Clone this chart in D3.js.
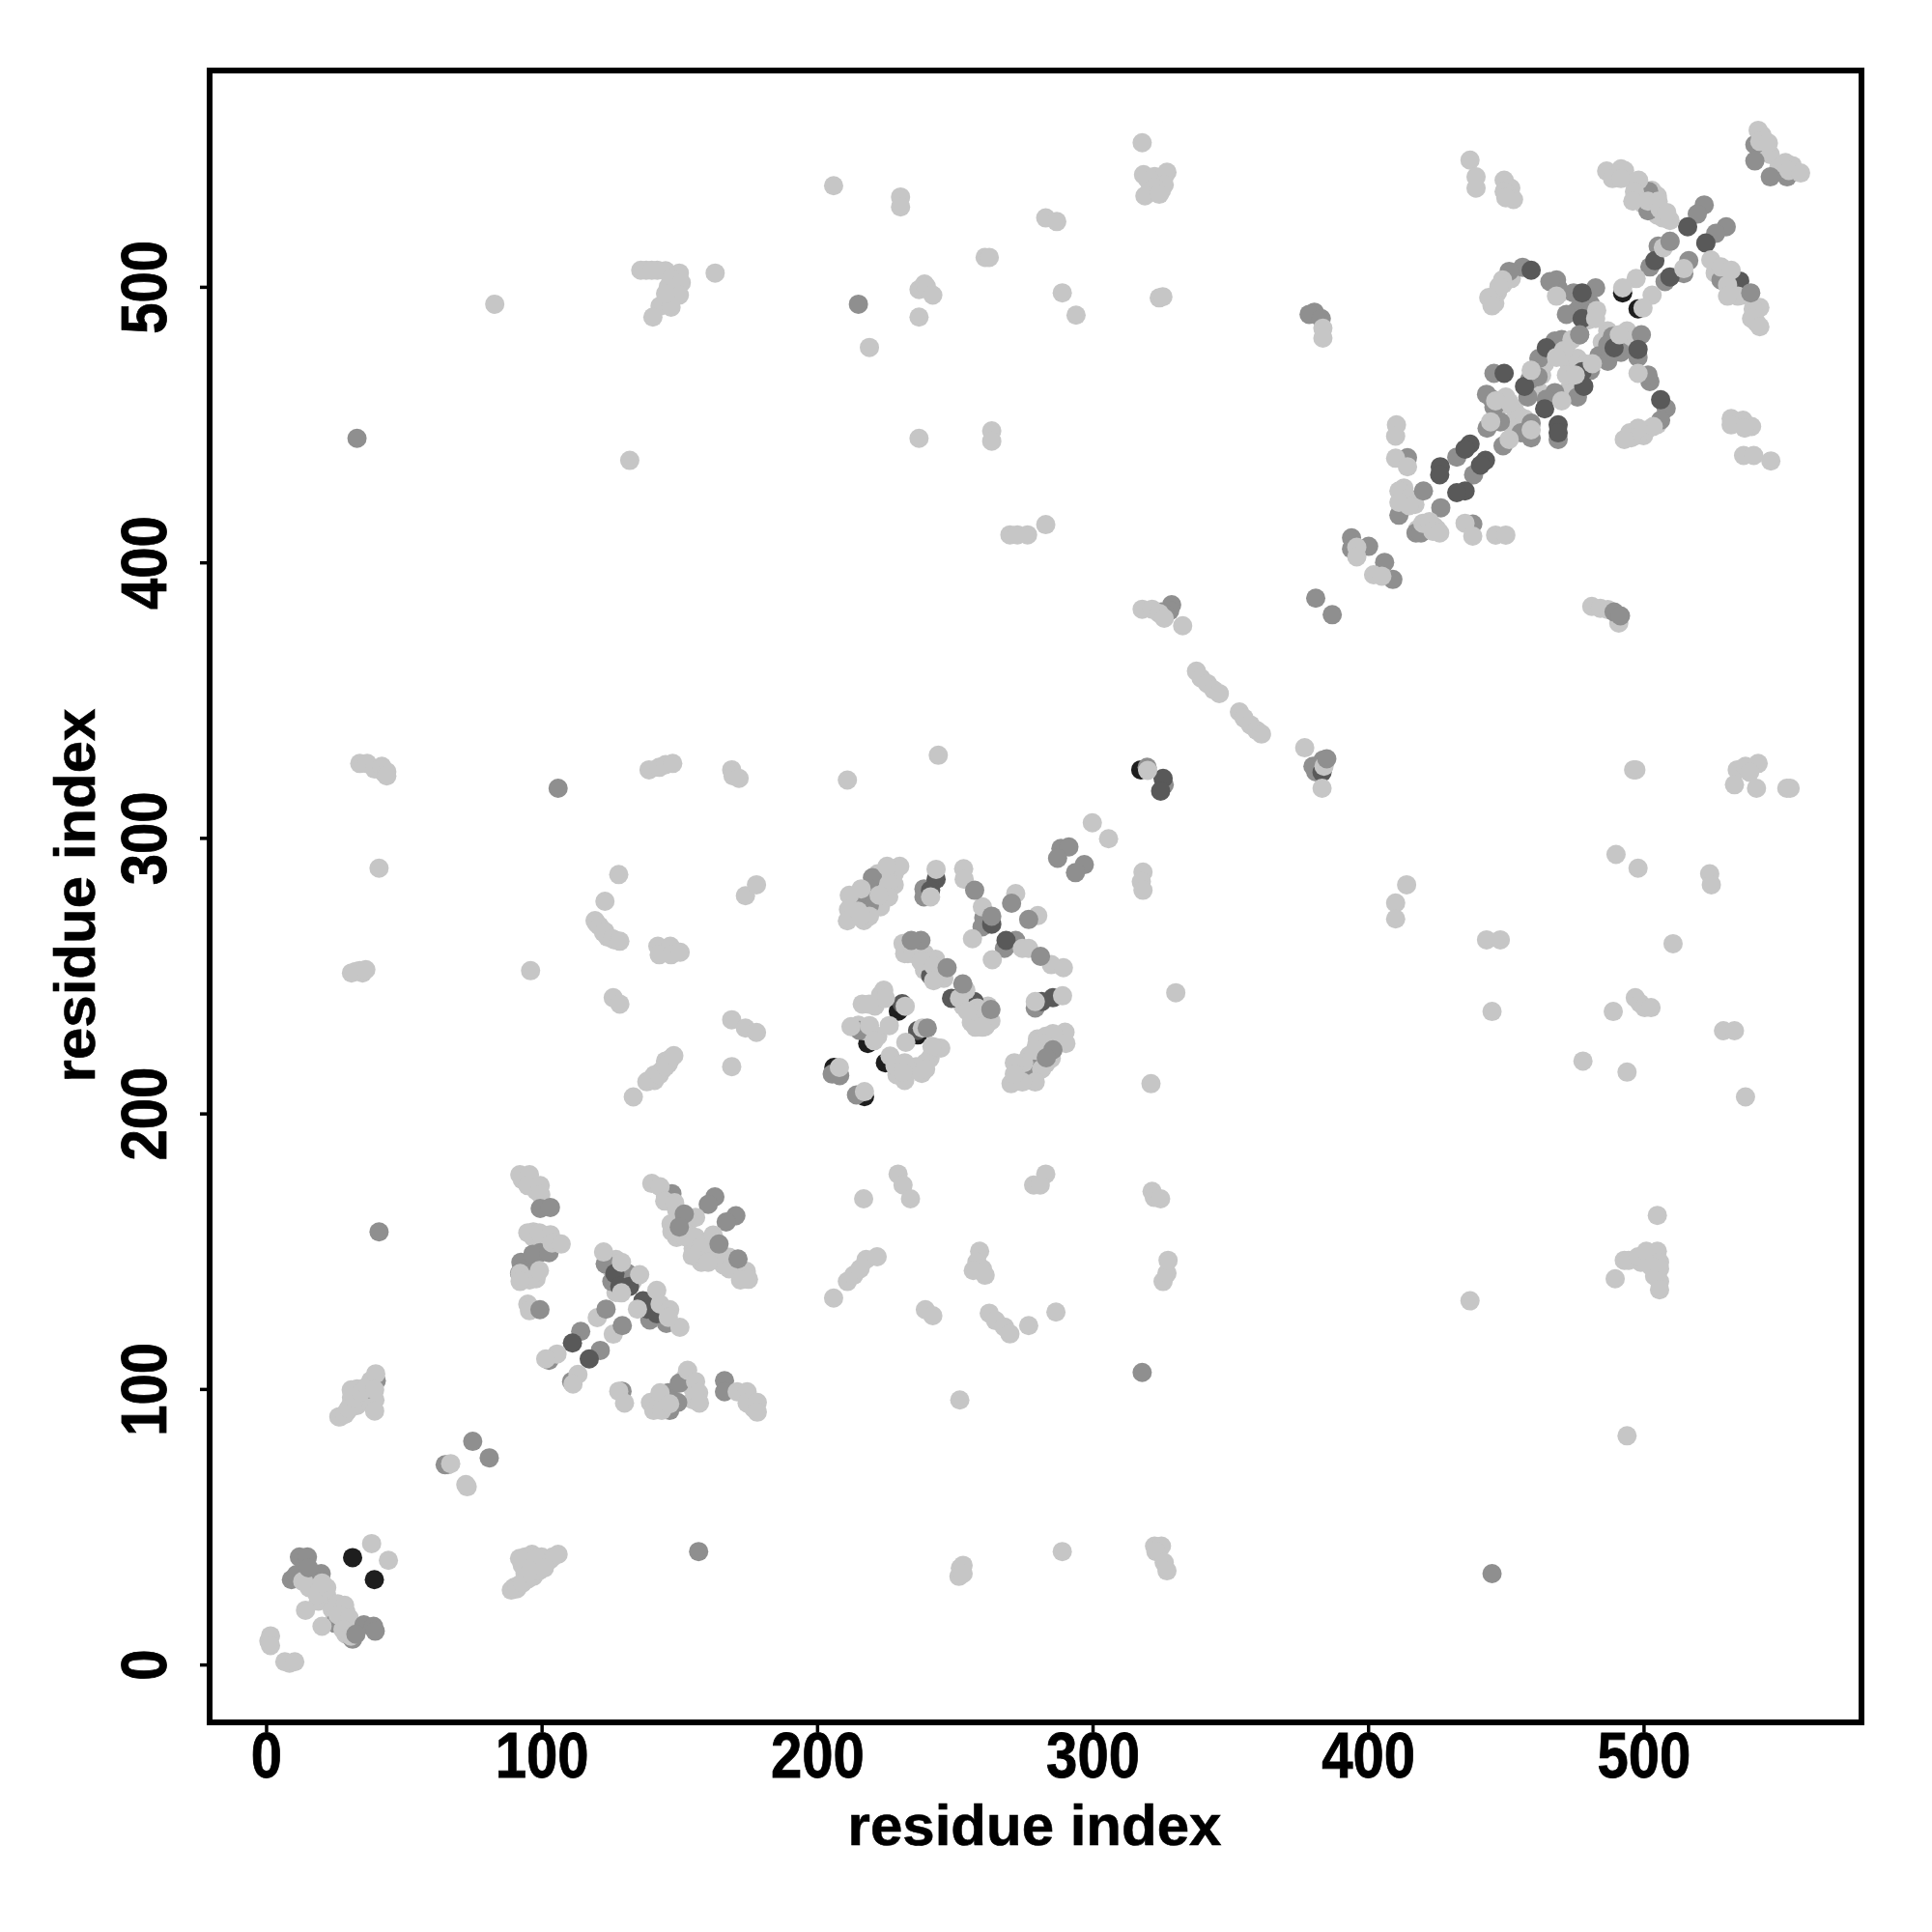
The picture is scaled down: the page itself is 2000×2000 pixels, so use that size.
<!DOCTYPE html>
<html><head><meta charset="utf-8">
<style>html,body{margin:0;padding:0;background:#fff}svg{display:block}text{font-family:"Liberation Sans",Arial,sans-serif;font-weight:bold;fill:#000}</style>
<script src="https://cdn.jsdelivr.net/npm/d3@7"></script></head><body>
<script>
const tickValues=[0,100,200,300,400,500];
const axisTitle="residue index";
const blackContacts=[[31.4,38.8],[39.3,30.8],[206.1,216.7],[217.2,206.1],[218.4,225.4],[229.5,237.1],[224.8,218.4],[236.5,228.5],[492.4,497.8],[498,492],[317.5,324.7],[482,490]];
const darkContacts=[[126.6,141.9],[128.4,137.2],[131.9,137.2],[136.8,132],[138.3,129],[141.8,127.3],[111.2,116.7],[117.3,110.9],[243.2,285],[241.2,281],[263.4,268.7],[268.6,262.8],[241.2,250],[248.8,241.8],[257,240.6],[230.9,239.8],[236.5,230.1],[285.6,242],[281.5,240.6],[325.6,321.6],[324.7,317],[383.3,323.8],[516,521.8],[522.6,515.9],[504.1,509.5],[509.6,503.6],[534.9,502.1],[477.7,497.8],[477.7,488.5],[459.2,506],[464.7,477.9],[489.3,477.9],[498,477.3],[506.2,459],[477.7,469.2],[478.3,463.9],[456.8,463.9],[449.4,468.6],[464.1,455.7],[469,449.9],[469,447],[437,442.9],[435.2,441.1],[442.6,437],[440.8,435.3],[426.2,434.7],[426,431.8],[435.2,425.9],[432.2,425.3]];
const midContacts=[[9.2,30.8],[11,32.6],[25,15],[31.4,9.2],[92.5,146],[96.2,145.4],[92,142],[99.5,149.5],[96.8,148.9],[102.7,149.5],[123.1,145.4],[125.5,139],[131.3,141.9],[139.3,125],[145.3,123.8],[114.2,120.9],[121.3,114],[102.7,110.4],[110.9,102.7],[147.3,170.9],[162.9,169.7],[160.5,167],[170.5,162.9],[167,160.6],[129.2,99.2],[146.5,92.2],[146,98.6],[149.4,95.1],[150,102.1],[166.4,103],[166.4,99],[219,275.7],[214.3,278.6],[238.8,281.5],[238.8,278.6],[260.5,271],[259.9,267.7],[268,259.9],[272.1,262.8],[288.5,296.2],[291.4,296.7],[287.3,292.6],[297,290.3],[293.8,287.4],[220.1,285.6],[219,281.5],[215.4,230.1],[205.5,214.3],[208.2,213.7],[214.3,206.7],[279.2,238.3],[278.6,216.1],[380.5,490.8],[378.6,490],[383,488.5],[381,387],[387,381],[328.7,384.6],[328,382.5],[381,324],[380,326],[383.7,328.3],[326,319.3],[319.8,325.6],[33,445],[106,318],[41,157],[75,81],[81,75],[65,72.5],[157,41],[445,33],[318,106],[215,493.7],[540.4,551.6],[540.4,545.7],[546,539.9],[552.1,539.9],[501.9,534.6],[501.6,527.6],[522,529.7],[519.5,526.4],[530,521.8],[526.2,519.4],[505.3,514.8],[502.3,507.2],[516.4,509.5],[514.6,504.8],[507.8,501.9],[528.1,502.5],[482.6,499.6],[474.6,497.8],[468.4,502.5],[469,499.6],[466,501.9],[480.7,493.7],[476.4,491.9],[475.2,490.8],[456.1,507.1],[451.2,505.6],[476.8,482.6],[470.3,480.9],[467.8,480.3],[488.7,482],[491.8,476.2],[499.2,482.6],[498,474.4],[483.8,475],[502.3,465.6],[501.6,468],[508.2,455.9],[506.2,451.6],[480.7,469.7],[461.7,467.4],[458.6,466.2],[445.7,468.6],[445,459.2],[445.7,456.3],[443.2,448.7],[467.8,461.6],[464.7,459.2],[459.2,450.5],[459.2,445.2],[455.5,447],[449,442.3],[469,444.6],[432.2,438.2],[438.3,431.8],[420.1,425.9],[426.4,419.8],[414.3,438],[411.2,417.1],[417.4,410.7],[419.2,410.7],[438,413.9],[394,408.9],[400.2,405.8],[394,404.9],[406,400],[409,393.8],[383,325],[325,382],[326.5,381],[37,100],[40,103],[20,33],[18,28],[462,474],[472,490],[487,473],[448,451],[443,461],[458,460],[476,460],[487,479]];
const lightContacts=[[38.3,43.9],[44.4,37.8],[13.3,30.2],[15.6,27.9],[18.5,25.5],[22,27.9],[20.3,29.6],[14.3,19.7],[20.3,13.9],[28.5,21.5],[26.1,18],[30.2,16.8],[27.9,12.7],[30.8,10.3],[1.6,10.4],[1.6,6.9],[6.8,1],[10.4,1],[26.4,89.9],[28.6,90.8],[30,93],[32.2,96.6],[30.9,99.7],[34.4,98.8],[36.7,101],[39.8,105.5],[39.4,99.7],[39.4,92],[67,72.9],[72.5,65.3],[73,64.5],[89,27],[91,27.5],[93,29.5],[97,32],[99,34],[102,38],[106,40],[95,38.5],[92,38.5],[98,38.5],[96,34],[101,35],[252,35],[253,36],[251.5,32],[253,33],[289,41],[322.5,43],[325,43],[323,41],[326,37],[327,34],[92.1,177.8],[95.6,177.8],[95,173.8],[99.5,173.8],[99.7,170.5],[95,156.7],[99.2,156.7],[103.2,156],[103.8,153],[107.1,152.6],[92.2,141.9],[95.6,139.6],[92.2,139],[99.2,143],[95,130.8],[95.6,128.4],[122.5,149.7],[129,146],[135.6,141.5],[129,134.9],[141.8,135.8],[134.8,129],[143,130.8],[146.5,128.8],[150.2,122.4],[146,126],[120.2,125.9],[126,119.9],[105.6,112.7],[101.5,110.9],[113.2,105.3],[111.4,101.8],[140,174.6],[143,173.4],[144.7,168.2],[148.3,167.6],[155.9,162.3],[147.3,157.1],[151.8,155.3],[154.7,148.3],[157,149.5],[159.4,153],[162.3,155.9],[160.5,146],[168.1,147.8],[168.1,143.6],[174.3,142.7],[175.1,139.8],[172.2,139.6],[128,99.2],[130.1,94.9],[139.5,95.1],[143,98.6],[140.7,92.2],[143.6,92.2],[146.5,94.6],[153,106.8],[155.9,102.7],[157,98.6],[157.3,94.9],[171,99],[174.6,99],[174.6,94.9],[178.3,95.1],[178.3,91.6],[206,133],[211,139],[213.3,141.3],[215.6,143.6],[217.8,147],[221.8,148],[216.9,169],[229.4,178],[231.2,174],[233.9,169],[239.3,128.8],[242,126.6],[259,150],[258,146],[260,143.6],[256.7,143],[261,141.3],[262.5,127.5],[264.8,124.8],[268,122.5],[270,120],[276.8,123],[286.7,127.9],[278.6,174],[283,178],[281,174],[251.8,96],[321.6,171.7],[322.4,169.5],[324.7,169],[325.6,139],[327,142],[327.4,146.7],[437,132],[494,83],[505,163],[489.7,140],[493,146.7],[494.6,146.7],[498,148],[501,150],[505,150],[505.8,146],[502.7,144.5],[505.8,143.6],[505.8,139],[505.8,136],[299.9,305.5],[305.8,299.7],[318.3,287.6],[317.7,284.1],[318.3,281],[230,289.7],[225.4,289.7],[226,283.3],[226,278.6],[222.5,279.2],[216,281.5],[211.7,279.2],[211.4,274],[211,269.9],[214.9,273.4],[219,271.6],[216,271.6],[243.2,288.6],[241.2,278.6],[253.2,288.8],[253.4,285],[260,275],[256.4,263.4],[272.1,279.8],[280.1,271.8],[263.6,255.8],[274.5,259.9],[276.8,259.9],[285,254],[289.4,252.9],[231.8,258],[231.2,261.7],[234.7,258],[237.7,255.2],[242.3,253.5],[242.3,248.2],[251.7,241.8],[254,244.7],[258.1,238.3],[257.5,231.3],[263.1,233.6],[254.6,237.1],[259.9,231.3],[224.2,244.7],[224.8,241.8],[216.4,239.7],[218.9,239.7],[232,238.9],[226.2,231.9],[212.3,231.5],[219,231.9],[238.2,231],[220.7,226.4],[232.2,225.8],[244.9,223.7],[241.7,224.3],[226.5,220.8],[228.3,217.2],[231.8,218.4],[231.8,212],[239.4,218.4],[239.4,216.1],[231.2,214.9],[208.1,216.7],[217.2,207.9],[290,229.5],[290.3,225.4],[285.6,229],[282.1,225.4],[279.7,224.8],[279.2,223.1],[275,218.4],[271.6,218.4],[281.5,216.1],[279.2,211.4],[274.5,211.4],[270.4,210.8],[271.6,214.3],[289.1,242.7],[279.2,240.6],[330.2,243.8],[321.2,210.8],[41,289],[34,327],[36.7,327],[39.4,325],[42,326],[43.8,324],[43.8,322.5],[139,324.7],[142.7,325.6],[145,326.6],[147.6,327],[169,324.7],[169.5,322.5],[171.7,321.6],[211,321],[244,330],[128,286.7],[123,277],[119.4,270],[121,268],[122.5,265.6],[125.7,263.4],[128.4,262.5],[142.2,260.7],[146.7,260.7],[142.7,257.6],[147,257.6],[150.3,258.5],[174,279],[178,283],[34,251.8],[31,251],[36.2,252.2],[96,251.8],[126,242],[128.4,239.7],[169,234],[174,231],[178,229.4],[169,217],[133.3,206],[138.2,211.5],[140.4,213],[142.7,214],[145,217],[148,221],[83,493.7],[136,506],[140,506],[145,505.8],[150,505],[147,503],[150.7,501.5],[140.4,489],[147,492.6],[150,497],[145,497.5],[163,505],[132,437],[206,536.7],[230.3,532.6],[230.3,529],[219,478],[237,499],[239,501],[239.7,500],[242,497],[237,489],[237,445],[263.4,447.7],[263.4,444],[261,510.7],[262.5,510.7],[283,525],[287,523.7],[289,497.8],[294,489.7],[270,410],[272.7,410],[276.4,410],[283,413.7],[318,552.3],[318.5,540.7],[322.5,540],[326,540],[327,541.6],[326,537],[322.5,536],[319,533],[324.2,533.6],[324.2,496],[325.5,496.4],[541.6,556.8],[542.2,552.8],[545.3,552.2],[551.5,545.1],[552.7,542.2],[557,541.3],[437,546],[439.2,539.9],[439.2,535.8],[449.4,538.7],[451.8,535.8],[449.4,534.6],[452.8,531.7],[450,532.3],[486.6,542],[488.7,539.3],[491.8,542.8],[493.1,542.2],[491.8,539.3],[498.2,538.7],[496.7,534.6],[496.1,531.1],[501.6,531.1],[505.3,531.1],[506,528.2],[509.6,524.1],[508.4,527],[509.6,516.5],[507.2,514.2],[514.6,506.6],[524.4,509.8],[528.1,507.2],[531.8,506],[530.5,500.7],[534.2,496.6],[530.5,496.6],[542.2,492.5],[539.8,491.9],[539.2,488.5],[542.2,485.5],[497.3,503],[492.4,499.6],[503.1,497],[499.8,492.3],[468.4,496.6],[483,491.4],[482.6,488.5],[448.8,502.5],[447.5,500.1],[443.8,496.1],[445,493.1],[474,480.9],[470.9,476.8],[468.4,474.4],[491.2,482.6],[481.4,472.1],[498,468.6],[503.5,449.3],[498,448.7],[495.5,445.2],[493,444.6],[475.2,468],[459.2,469.7],[451.2,458.1],[446.3,458.6],[444.5,451],[470.3,458.6],[459.2,448.1],[451.2,444.6],[410.3,449.9],[410,445.8],[410,437.8],[414.3,434.7],[411.2,425.9],[413.7,423],[414.9,420.6],[411.2,421.8],[419.9,414.2],[422.3,414.8],[423.5,411.3],[426,410.7],[435.2,414.2],[438,409.5],[446.3,409.9],[450,409.9],[395.9,405.5],[395.9,402],[402,395.5],[405,395],[383.6,485],[383.6,481.4],[531.8,452.2],[536.1,451.6],[539.2,449.3],[531.8,449.9],[536.7,448.7],[536.3,438.8],[540,438.8],[546.2,436.8],[318,383],[321.6,383],[324.2,381.5],[326,379.7],[332.7,377],[337.7,360.5],[339.4,358],[341.7,356],[344,353.7],[346,352.4],[353.3,345.7],[355,343.5],[357.3,341],[359.6,339],[361.3,337.7],[377,332.7],[384,326],[383.3,318],[320,324.5],[481.2,384],[484.3,383.3],[487,382.9],[491,378],[496.4,324.7],[497.2,324.7],[534,324.7],[537,326],[541.6,327],[533,319.3],[538.5,323.8],[541,318],[552,318],[553.2,318],[490,294],[498,289],[524,287],[524.6,283],[414,283],[410,276.4],[410,270.6],[443,263],[448,263],[445,237],[510.7,261.6],[497,242],[498.7,240],[500.4,238.4],[502.7,238.4],[489,237],[478,219],[494,215],[529,230],[533,230],[537,206]];
const lightClusterContacts=[[16,32],[18,30],[22,25],[19,23],[24,20],[26,22],[29,19],[28,15],[25,17],[31,14],[29,11],[1,8.5],[8.5,0.5],[27,90],[29.5,92],[31,95],[33,94],[35,96],[37,97],[35,100],[38,103],[38,95],[39.5,96],[31,97],[33,100],[90,28],[92,29],[95,31],[94,33],[93,36],[97,36],[99,37],[100,39],[103,38],[94,39],[96.5,40],[104,39],[66,72.5],[138,506],[142,506],[148,504],[146,500],[148,500],[143,493],[120,269],[123,266],[124,264],[126.5,263],[139,212],[141,212],[143,215],[145,219],[146,218],[147,220],[144,216],[141,214],[32.5,251.5],[35,251],[42.5,324],[43,323.5],[321,537],[324,538],[320,539],[325,535],[213,276],[217,277],[220,283],[222,287],[224,285],[228,287],[228,283],[223,275],[221,279],[218,279],[213,272],[217,270],[232,260],[233,258],[236,259],[239,258],[240,255],[243,256],[239,252],[244,251],[245,250],[246,249],[253,243],[255,241],[253,239],[256,236],[258,235],[260,234],[262,235],[256,233],[261,231.5],[262,239],[283,222],[287,226],[285,220],[281,221],[277,214],[276,216],[273,212],[283,218],[279,219],[277,221],[288,227],[280,227],[283,228],[274,215],[278,213],[215,232],[217,230],[222,228],[223,243],[221,239],[230,217],[233,215],[236,217],[241,220],[243,224],[238,214.5],[229,214],[96,175],[98,172],[93,176],[97,157],[101,155],[105,153],[94,140.5],[97,142],[98,140],[97,155],[127,147],[125,144],[133,139],[127,135],[153,157],[156,155],[158,151],[162,150],[164,148],[155,151],[158,146],[166,145],[170,144],[145,170],[149,165],[153,162],[149,155],[147,160],[142,95],[145,96],[147,97],[155,100],[155,96],[152,104],[177,93],[503,148],[504,141],[504,145],[499,146],[447,498],[449,501],[452,503],[446,494],[470,478],[472,476],[450,460],[448,457],[453,456],[455,453],[452,450],[457,452],[462,462],[463,468],[464,472],[473,472],[476,474],[476,465],[473,463],[479,472],[472,468],[485,480],[490,478],[495,480],[487,484],[494,484],[480,488],[470,498],[413,424],[412,420],[415,423],[417,421],[413,427],[421,413],[424,413],[418,412],[425,412],[505,533],[503,535],[499,535],[497,537],[500,530],[503,528],[505,526],[507,525],[533,499],[536,497],[540,490],[541,487],[526,505],[532,503],[543,555],[544,550],[546,548],[544,553],[554,544],[551,541],[549,543],[555,542],[450,536],[451,534],[495,447],[497,446],[500,446],[501,448],[505,450]];
const topContacts=[[12.1,39],[15,39],[15.4,35.1],[35.5,14.4],[39,13.9],[39.6,12.1],[32.6,11],[99.5,165.5],[103.2,165.9],[99.4,128.8],[123.4,129],[129.3,123],[164.4,152.6],[171.3,147.2],[151.8,163.5],[150,158.8],[281.1,257],[247.2,252.9],[263.1,237.7],[252.9,247],[240,231],[237.7,262.8],[234.2,262.8],[263.4,271.6],[257.2,281],[270.6,276.3],[276.8,270.4],[285.6,223.1],[283.2,220.2],[538.9,497.8],[476.8,482.6],[489.3,382],[491.6,380.6],[385,328.7],[509.6,516.5]];

const W=2000,H=2000,L=217,R=1927,T=73,B=1783;
const x=d3.scaleLinear().domain([-20.5,579.1]).range([L,R]);
const y=d3.scaleLinear().domain([-21,578.5]).range([B,T]);
const svg=d3.select("body").append("svg").attr("width",W).attr("height",H);
svg.append("rect").attr("width",W).attr("height",H).attr("fill","#fff");
const layers=[[blackContacts,"#1e1e1e"],[lightClusterContacts,"#c6c6c6"],[midContacts,"#8f8f8f"],[darkContacts,"#595959"],[lightContacts,"#c6c6c6"],[topContacts,"#8f8f8f"]];
layers.forEach(([pts,c])=>{
  svg.append("g").selectAll("circle").data(pts).join("circle")
    .attr("cx",d=>x(d[0])).attr("cy",d=>y(d[1])).attr("r",10).attr("fill",c);
});
svg.append("rect").attr("x",L).attr("y",T).attr("width",R-L).attr("height",B-T).attr("fill","none").attr("stroke","#000").attr("stroke-width",6);
const gx=svg.append("g").attr("transform",`translate(0,${B})`).call(d3.axisBottom(x).tickValues(tickValues).tickSize(10).tickFormat(d3.format("d")));
const gy=svg.append("g").attr("transform",`translate(${L},0)`).call(d3.axisLeft(y).tickValues(tickValues).tickSize(10).tickFormat(d3.format("d")));
[gx,gy].forEach(g=>{g.select(".domain").remove();g.selectAll("line").attr("stroke","#000").attr("stroke-width",3.5);g.selectAll("text").attr("font-size",66).style("font-family",'"Liberation Sans"').style("font-weight","bold").attr("fill","#000").attr("stroke","#000").attr("stroke-width",0.8)});
gx.selectAll("text").attr("dy",null).attr("y",null).attr("transform","translate(0,57) scale(0.88,1)");
gy.selectAll("text").attr("dy",null).attr("x",null).attr("text-anchor","middle").attr("transform","translate(-45,0) rotate(-90) scale(0.88,1)");
svg.append("text").attr("x",1071).attr("y",1910).attr("text-anchor","middle").attr("font-size",60).attr("stroke","#000").attr("stroke-width",0.6).text(axisTitle);
svg.append("text").attr("transform","translate(98,927) rotate(-90)").attr("text-anchor","middle").attr("font-size",60).attr("stroke","#000").attr("stroke-width",0.6).text(axisTitle);
</script></body></html>
